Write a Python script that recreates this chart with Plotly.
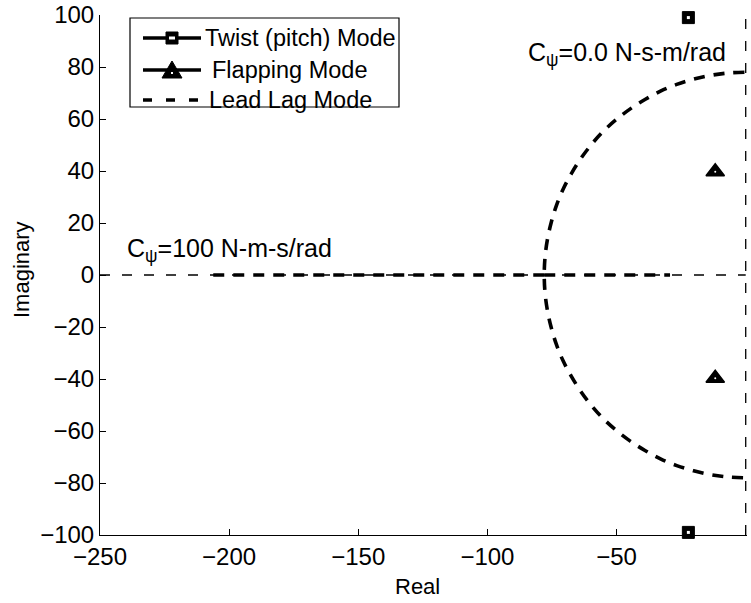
import plotly.graph_objects as go

# ---------------- data ----------------
# Lead-lag mode root locus: complex-pair arc (upper then lower half)
leadlag_arc_x = [-0.5, -6.8, -13.5, -20.2, -26.7, -33.0, -39.0, -44.7, -50.1, -55.2,
                 -59.8, -63.9, -67.5, -70.7, -73.3, -75.3, -76.8, -77.7, -78.0,
                 -77.7, -76.8, -75.3, -73.3, -70.7, -67.5, -63.9, -59.8, -55.2,
                 -50.1, -44.7, -39.0, -33.0, -26.7, -20.2, -13.5, -6.8, -0.5]
leadlag_arc_y = [78.0, 77.7, 76.8, 75.3, 73.3, 70.7, 67.5, 63.9, 59.8, 55.2,
                 50.1, 44.7, 39.0, 33.0, 26.7, 20.2, 13.5, 6.8, 0.0,
                 -6.8, -13.5, -20.2, -26.7, -33.0, -39.0, -44.7, -50.1, -55.2,
                 -59.8, -63.9, -67.5, -70.7, -73.3, -75.3, -76.8, -77.7, -78.0]
# Lead-lag mode real-axis branches after breakaway
leadlag_left_x = [-78.0, -207.0]
leadlag_left_y = [0.0, 0.0]
leadlag_right_x = [-78.0, -29.3]
leadlag_right_y = [0.0, 0.0]

# Twist (pitch) mode poles
twist_x = [-22.2, -22.2]
twist_y = [99.0, -99.0]

# Flapping mode poles
flap_x = [-11.8, -11.8]
flap_y = [39.7, -39.7]

# Reference axes lines
ref_h_x = [-250, 0]
ref_h_y = [0, 0]
ref_v_x = [0, 0]
ref_v_y = [-100, 100]

x_ticks = [-250, -200, -150, -100, -50, 0]
y_ticks = [-100, -80, -60, -40, -20, 0, 20, 40, 60, 80, 100]

legend_labels = ["Twist (pitch) Mode", "Flapping Mode", "Lead Lag Mode"]
annot_top = "C<sub>ψ</sub>=0.0 N-s-m/rad"
annot_left = "C<sub>ψ</sub>=100 N-m-s/rad"
x_title = "Real"
y_title = "Imaginary"

# ---------------- figure ----------------
W, H = 751, 603
ML, MR, MT, MB = 100, 4, 15, 68
FONT = "Liberation Sans, Arial, Helvetica, sans-serif"

fig = go.Figure()

thin = dict(color="black", width=1.3, dash="10px,12px")
thick = dict(color="black", width=3.6, dash="11px,9px")

fig.add_trace(go.Scatter(x=ref_h_x, y=ref_h_y, mode="lines", line=thin,
                         showlegend=False, hoverinfo="skip"))
fig.add_trace(go.Scatter(x=ref_v_x, y=ref_v_y, mode="lines", line=thin,
                         showlegend=False, hoverinfo="skip"))

fig.add_trace(go.Scatter(x=leadlag_arc_x, y=leadlag_arc_y, mode="lines",
                         line=dict(thick, shape="spline"), showlegend=False))
fig.add_trace(go.Scatter(x=leadlag_left_x, y=leadlag_left_y, mode="lines",
                         line=thick, showlegend=False))
fig.add_trace(go.Scatter(x=leadlag_right_x, y=leadlag_right_y, mode="lines",
                         line=thick, showlegend=False))

# twist markers
fig.add_trace(go.Scatter(x=twist_x, y=twist_y, mode="markers", cliponaxis=False,
                         marker=dict(symbol="square", size=12, color="black",
                                     line=dict(color="black", width=1)),
                         showlegend=False))
fig.add_trace(go.Scatter(x=twist_x, y=twist_y, mode="markers", cliponaxis=False,
                         marker=dict(symbol="square", size=3, color="white",
                                     line=dict(width=0)),
                         showlegend=False))
# flapping markers
fig.add_trace(go.Scatter(x=flap_x, y=flap_y, mode="markers", cliponaxis=False,
                         marker=dict(symbol="triangle-up", size=16, color="black",
                                     line=dict(color="black", width=1.5)),
                         showlegend=False))
fig.add_trace(go.Scatter(x=flap_x, y=flap_y, mode="markers", cliponaxis=False,
                         marker=dict(symbol="circle", size=2, color="white",
                                     line=dict(width=0)),
                         showlegend=False))

# ---------------- custom legend (paper coords) ----------------
PW = W - ML - MR
PH = H - MT - MB


def px(xp):
    return (xp - ML) / PW


def py(yp):
    return (H - MB - yp) / PH


shapes = []
shapes.append(dict(type="rect", xref="paper", yref="paper",
                   x0=px(130), x1=px(399), y0=py(107), y1=py(18),
                   line=dict(color="black", width=1.2), fillcolor="white",
                   layer="above"))
rows = [38, 70, 100]
text_x = [203, 210, 207]
for i, r in enumerate(rows):
    dash = "solid" if i < 2 else "9px,14px"
    shapes.append(dict(type="line", xref="paper", yref="paper",
                       x0=px(143), x1=px(201), y0=py(r), y1=py(r),
                       line=dict(color="black", width=3.5, dash=dash), layer="above"))
# legend square
shapes.append(dict(type="rect", xref="paper", yref="paper",
                   x0=px(166), x1=px(178), y0=py(44), y1=py(32),
                   line=dict(color="black", width=1), fillcolor="black", layer="above"))
shapes.append(dict(type="rect", xref="paper", yref="paper",
                   x0=px(169), x1=px(175), y0=py(39.5), y1=py(36.5),
                   line=dict(color="white", width=0), fillcolor="white", layer="above"))
# legend triangle
tri = "M {} {} L {} {} L {} {} Z".format(px(162), py(78), px(182), py(78), px(172), py(61))
shapes.append(dict(type="path", xref="paper", yref="paper", path=tri,
                   line=dict(color="black", width=1), fillcolor="black", layer="above"))
shapes.append(dict(type="rect", xref="paper", yref="paper",
                   x0=px(171), x1=px(173), y0=py(74), y1=py(72),
                   line=dict(color="white", width=0), fillcolor="white", layer="above"))

annotations = []
for i, r in enumerate(rows):
    annotations.append(dict(xref="paper", yref="paper", x=px(text_x[i]), y=py(r),
                            xanchor="left", yanchor="middle", showarrow=False,
                            text=legend_labels[i],
                            font=dict(family=FONT, size=23.5, color="black")))

annotations.append(dict(xref="x", yref="y", x=-85.0, y=85.0, xanchor="left",
                        yanchor="middle", showarrow=False, text=annot_top,
                        font=dict(family=FONT, size=25, color="black")))
annotations.append(dict(xref="x", yref="y", x=-240.5, y=9.5, xanchor="left",
                        yanchor="middle", showarrow=False, text=annot_left,
                        font=dict(family=FONT, size=25, color="black")))
# axis titles
annotations.append(dict(xref="paper", yref="paper", x=px(417), y=py(572),
                        xanchor="center", yanchor="top", showarrow=False,
                        text=x_title, font=dict(family=FONT, size=22, color="black")))
annotations.append(dict(xref="paper", yref="paper", x=px(21), y=py(270),
                        xanchor="center", yanchor="middle", showarrow=False,
                        textangle=-90, text=y_title,
                        font=dict(family=FONT, size=22, color="black")))

fig.update_layout(
    width=W, height=H,
    margin=dict(l=ML, r=MR, t=MT, b=MB, pad=0, autoexpand=False),
    paper_bgcolor="white", plot_bgcolor="white",
    font=dict(family=FONT, size=22, color="black"),
    shapes=shapes, annotations=annotations,
    showlegend=False,
    xaxis=dict(range=[-250, 0.5], tickvals=x_ticks, ticks="inside", ticklen=6,
               tickcolor="black", showline=True, linecolor="black", linewidth=1,
               mirror=False, showgrid=False, zeroline=False, automargin=False,
               tickfont=dict(family=FONT, size=24)),
    yaxis=dict(range=[-100, 100], tickvals=y_ticks, ticks="inside", ticklen=6,
               tickcolor="black", showline=True, linecolor="black", linewidth=1,
               mirror=False, showgrid=False, zeroline=False, automargin=False,
               tickfont=dict(family=FONT, size=24)),
)

fig.write_html("out.html")
